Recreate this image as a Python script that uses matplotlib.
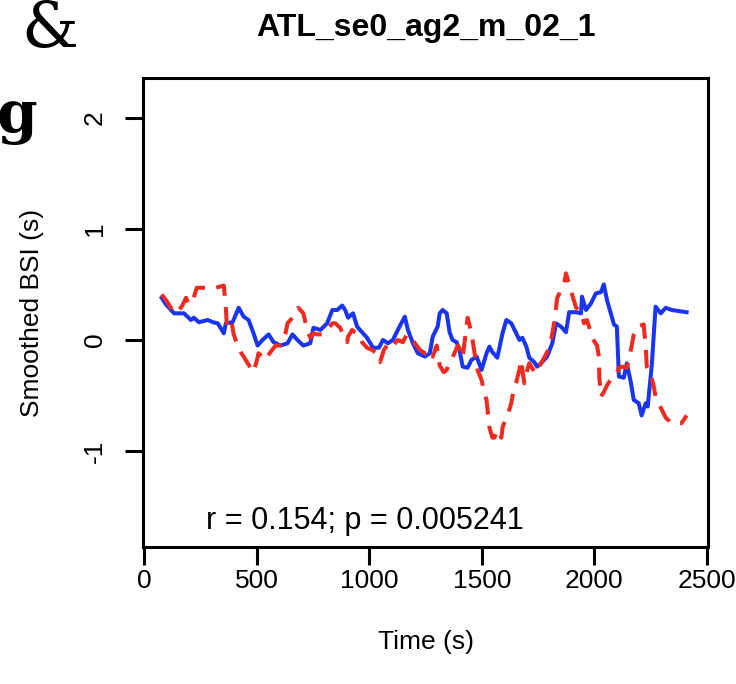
import matplotlib.pyplot as plt

# smoothed BSI, subject 1 (blue, solid)
time_a = [78, 97, 133, 177, 208, 221, 243, 283, 305, 327, 354, 363, 393, 420, 442, 464,
          486, 504, 526, 553, 575, 606, 637, 659, 681, 707, 738, 752, 783, 813, 836, 858,
          880, 893, 906, 928, 946, 968, 990, 1017, 1043, 1061, 1083, 1105, 1127, 1158,
          1172, 1194, 1216, 1247, 1269, 1282, 1304, 1313, 1326, 1344, 1357, 1370, 1388,
          1401, 1415, 1437, 1454, 1477, 1499, 1521, 1534, 1547, 1569, 1592, 1609, 1631,
          1653, 1667, 1680, 1698, 1711, 1733, 1746, 1768, 1790, 1813, 1830, 1852, 1874,
          1888, 1919, 1941, 1945, 1963, 1985, 2007, 2029, 2042, 2056, 2073, 2087, 2100,
          2109, 2131, 2144, 2162, 2175, 2197, 2210, 2228, 2237, 2255, 2272, 2295, 2317,
          2343, 2410]
bsi_a = [0.38, 0.32, 0.24, 0.24, 0.18, 0.20, 0.16, 0.18, 0.16, 0.15, 0.06, 0.15, 0.16,
         0.29, 0.21, 0.18, 0.06, -0.05, 0.00, 0.05, -0.02, -0.05, -0.03, 0.05, 0.00,
         -0.05, -0.03, 0.11, 0.09, 0.15, 0.27, 0.27, 0.31, 0.27, 0.20, 0.24, 0.12, 0.07,
         0.02, -0.07, -0.07, 0.00, -0.03, 0.00, 0.09, 0.21, 0.09, -0.03, -0.12, -0.15,
         -0.12, 0.03, 0.12, 0.24, 0.27, 0.24, 0.07, 0.00, -0.02, -0.09, -0.24, -0.25,
         -0.18, -0.15, -0.27, -0.12, -0.06, -0.11, -0.16, 0.06, 0.18, 0.15, 0.06, 0.00,
         0.02, -0.06, -0.16, -0.20, -0.24, -0.20, -0.15, -0.03, 0.15, 0.12, 0.07, 0.25,
         0.25, 0.24, 0.39, 0.27, 0.33, 0.42, 0.43, 0.50, 0.36, 0.24, 0.14, 0.12, -0.33,
         -0.34, -0.21, -0.38, -0.54, -0.57, -0.68, -0.57, -0.60, -0.23, 0.30, 0.24, 0.29,
         0.27, 0.25]

# smoothed BSI, subject 2 (red, dashed)
time_b = [78, 97, 119, 128, 150, 172, 186, 199, 217, 234, 274, 318, 354, 363, 367, 376,
          385, 398, 416, 429, 442, 460, 486, 504, 508, 526, 539, 561, 584, 606, 628, 637,
          663, 685, 707, 725, 738, 752, 769, 791, 813, 836, 849, 871, 889, 902, 906, 924,
          937, 951, 968, 990, 1012, 1034, 1048, 1065, 1079, 1092, 1105, 1127, 1149, 1167,
          1189, 1203, 1225, 1247, 1260, 1269, 1282, 1300, 1313, 1331, 1344, 1357, 1370,
          1393, 1410, 1415, 1428, 1437, 1445, 1459, 1468, 1481, 1499, 1512, 1521, 1534,
          1547, 1556, 1569, 1587, 1592, 1609, 1622, 1631, 1644, 1653, 1667, 1676, 1680,
          1689, 1698, 1711, 1729, 1742, 1755, 1777, 1790, 1808, 1822, 1835, 1853, 1866,
          1874, 1888, 1901, 1919, 1932, 1945, 1954, 1967, 1981, 1989, 2012, 2020, 2022,
          2029, 2042, 2056, 2078, 2100, 2109, 2122, 2144, 2153, 2166, 2175, 2188, 2206,
          2219, 2228, 2233, 2250, 2264, 2272, 2286, 2295, 2317, 2343, 2387, 2410]
bsi_b = [0.41, 0.36, 0.29, 0.25, 0.25, 0.32, 0.38, 0.32, 0.36, 0.47, 0.47, 0.47, 0.49,
         0.29, 0.15, 0.18, 0.20, 0.05, -0.06, -0.11, -0.15, -0.21, -0.29, -0.16, -0.12,
         -0.15, -0.18, -0.11, -0.05, -0.05, 0.06, 0.15, 0.21, 0.29, 0.24, 0.09, 0.02,
         0.06, 0.05, 0.05, 0.09, 0.15, 0.15, 0.11, 0.02, -0.02, 0.03, 0.09, 0.07, 0.06,
         -0.02, -0.07, -0.09, -0.12, -0.20, -0.09, -0.05, -0.02, -0.05, 0.00, -0.02, 0.05,
         0.02, -0.03, -0.09, -0.12, -0.11, -0.09, -0.15, -0.05, -0.23, -0.29, -0.27,
         -0.20, -0.16, -0.05, -0.11, -0.16, 0.05, 0.20, 0.14, 0.00, -0.12, -0.27, -0.36,
         -0.48, -0.54, -0.79, -0.88, -0.88, -0.81, -0.88, -0.79, -0.69, -0.63, -0.57,
         -0.42, -0.38, -0.27, -0.18, -0.27, -0.39, -0.30, -0.21, -0.27, -0.30, -0.24,
         -0.16, -0.11, 0.00, 0.16, 0.38, 0.45, 0.51, 0.60, 0.50, 0.41, 0.29, 0.27, 0.23,
         0.15, 0.18, 0.09, 0.02, -0.05, -0.15, -0.33, -0.51, -0.47, -0.41, -0.34, -0.30,
         -0.25, -0.24, -0.25, -0.18, -0.05, 0.05, 0.12, 0.13, 0.14, -0.06, -0.24, -0.30,
         -0.42, -0.51, -0.57, -0.61, -0.70, -0.75, -0.75, -0.68]

x_ticks = [0, 500, 1000, 1500, 2000, 2500]
y_ticks = [-1, 0, 1, 2]
title = 'ATL_se0_ag2_m_02_1'
stat_text = 'r = 0.154; p = 0.005241'

plt.rcParams['font.family'] = ['Liberation Sans', 'DejaVu Sans']
plt.rcParams['axes.unicode_minus'] = False

fig = plt.figure(figsize=(7.36, 6.84), dpi=100)
ax = fig.add_axes([0.1943, 0.2003, 0.7677, 0.6857])

ax.plot(time_a, bsi_a, color='#1a35f0', lw=2.9, solid_joinstyle='round')
ax.plot(time_b, bsi_b, color='#f02a1e', lw=2.9, dashes=(4.5, 2.8),
        dash_capstyle='butt')

ax.set_xlim(-5, 2505)
ax.set_ylim(-1.865, 2.36)
ax.set_xticks(x_ticks)
ax.set_yticks(y_ticks)
for s in ax.spines.values():
    s.set_linewidth(2.2)
ax.tick_params(length=13, width=2.2, labelsize=19, color='black')
ax.tick_params(axis='x', pad=2.5)
ax.tick_params(axis='y', pad=13, labelrotation=90)
for lab in ax.get_yticklabels():
    lab.set_va('center')

ax.set_xlabel('Time (s)', fontsize=19)
ax.set_ylabel('Smoothed BSI (s)', fontsize=19)
ax.xaxis.set_label_coords(0.5, -0.178)
ax.yaxis.set_label_coords(-0.175, 0.5)

ax.set_title(title, fontsize=23, fontweight='bold', pad=30)
ax.text(981, -1.63, stat_text, ha='center', va='center', fontsize=22)

# leftovers of the slide behind the chart
fig.text(0.003, 0.93, 'e', fontsize=46, family='DejaVu Serif', ha='right', va='baseline')
fig.text(0.068, 0.93, '&', fontsize=46, family='DejaVu Serif', ha='center', va='baseline')
fig.text(-0.005, 0.807, 'g', fontsize=42, family='DejaVu Serif', fontweight='bold',
         ha='left', va='baseline')

fig.savefig('out.png', dpi=100, facecolor='white')
